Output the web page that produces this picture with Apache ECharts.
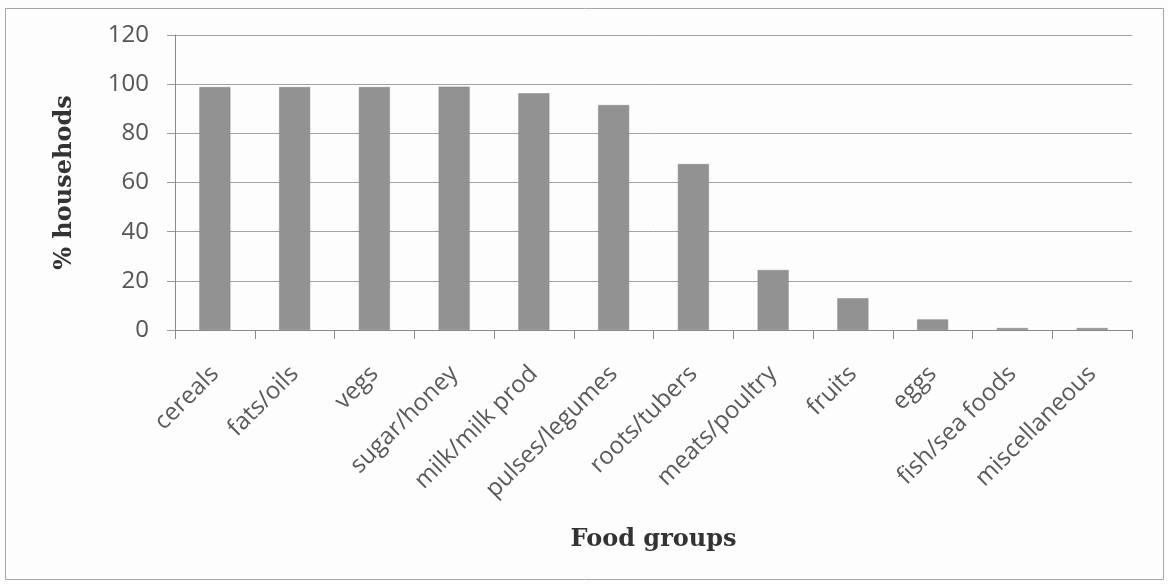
<!DOCTYPE html>
<html>
<head>
<meta charset="utf-8">
<title>Food groups consumed by households</title>
<script src="https://cdn.jsdelivr.net/npm/echarts@6/dist/echarts.min.js"></script>
<style>
  html, body { margin: 0; padding: 0; background: #fdfdfd; }
  #chart { width: 1168px; height: 584px; }
</style>
</head>
<body>
<div id="chart"></div>
<script>
// Share of households (%) that consumed each food group
const categories = [
  'cereals', 'fats/oils', 'vegs', 'sugar/honey', 'milk/milk prod',
  'pulses/legumes', 'roots/tubers', 'meats/poultry', 'fruits', 'eggs',
  'fish/sea foods', 'miscellaneous'
];
const householdPct = [98.8, 98.8, 98.8, 99, 96.3, 91.5, 67.5, 24.4, 12.9, 4.3, 0.8, 0.8];
const yTicks = [0, 20, 40, 60, 80, 100, 120];

const yAxisTitle = '% househods';
const xAxisTitle = 'Food groups';

const chart = echarts.init(document.getElementById('chart'), null, { renderer: 'canvas' });

const labelFont = '"Open Sans", "Noto Sans", sans-serif';
const titleFont = '"DejaVu Serif", "Liberation Serif", serif';

chart.setOption({
  backgroundColor: '#fdfdfd',
  animation: false,
  grid: { left: 175, right: 36, top: 35, bottom: 254, containLabel: false },
  xAxis: {
    type: 'category',
    data: categories,
    boundaryGap: true,
    name: xAxisTitle,
    nameLocation: 'middle',
    nameGap: 198,
    nameTextStyle: { fontFamily: titleFont, fontWeight: 'bold', fontSize: 24, color: '#333' },
    axisLine: { show: true, lineStyle: { color: '#8a8a8a', width: 1 } },
    axisTick: { show: true, alignWithLabel: false, length: 9, lineStyle: { color: '#8a8a8a' } },
    axisLabel: {
      interval: 0, rotate: 45, margin: 40,
      fontFamily: labelFont, fontSize: 24, color: '#5a5a5a'
    },
    splitLine: { show: false }
  },
  yAxis: {
    type: 'value',
    min: yTicks[0],
    max: yTicks[yTicks.length - 1],
    interval: yTicks[1] - yTicks[0],
    name: yAxisTitle,
    nameLocation: 'middle',
    nameRotate: 90,
    nameGap: 98,
    nameTextStyle: { fontFamily: titleFont, fontWeight: 'bold', fontSize: 24, color: '#333' },
    axisLine: { show: true, lineStyle: { color: '#8a8a8a', width: 1 } },
    axisTick: { show: true, length: 8, lineStyle: { color: '#9a9a9a' } },
    axisLabel: { margin: 26, fontFamily: labelFont, fontSize: 24, color: '#555' },
    splitLine: { show: true, lineStyle: { color: '#a2a2a2', width: 1 } }
  },
  series: [{
    type: 'bar',
    data: householdPct,
    barWidth: 31,
    itemStyle: { color: '#929292', borderColor: '#858585', borderWidth: 0.5 }
  }],
  graphic: [{
    type: 'rect',
    silent: true,
    shape: { x: 5.5, y: 8.5, width: 1158, height: 571 },
    style: { fill: 'none', stroke: '#a8a8a8', lineWidth: 1 }
  }]
});
</script>
</body>
</html>
